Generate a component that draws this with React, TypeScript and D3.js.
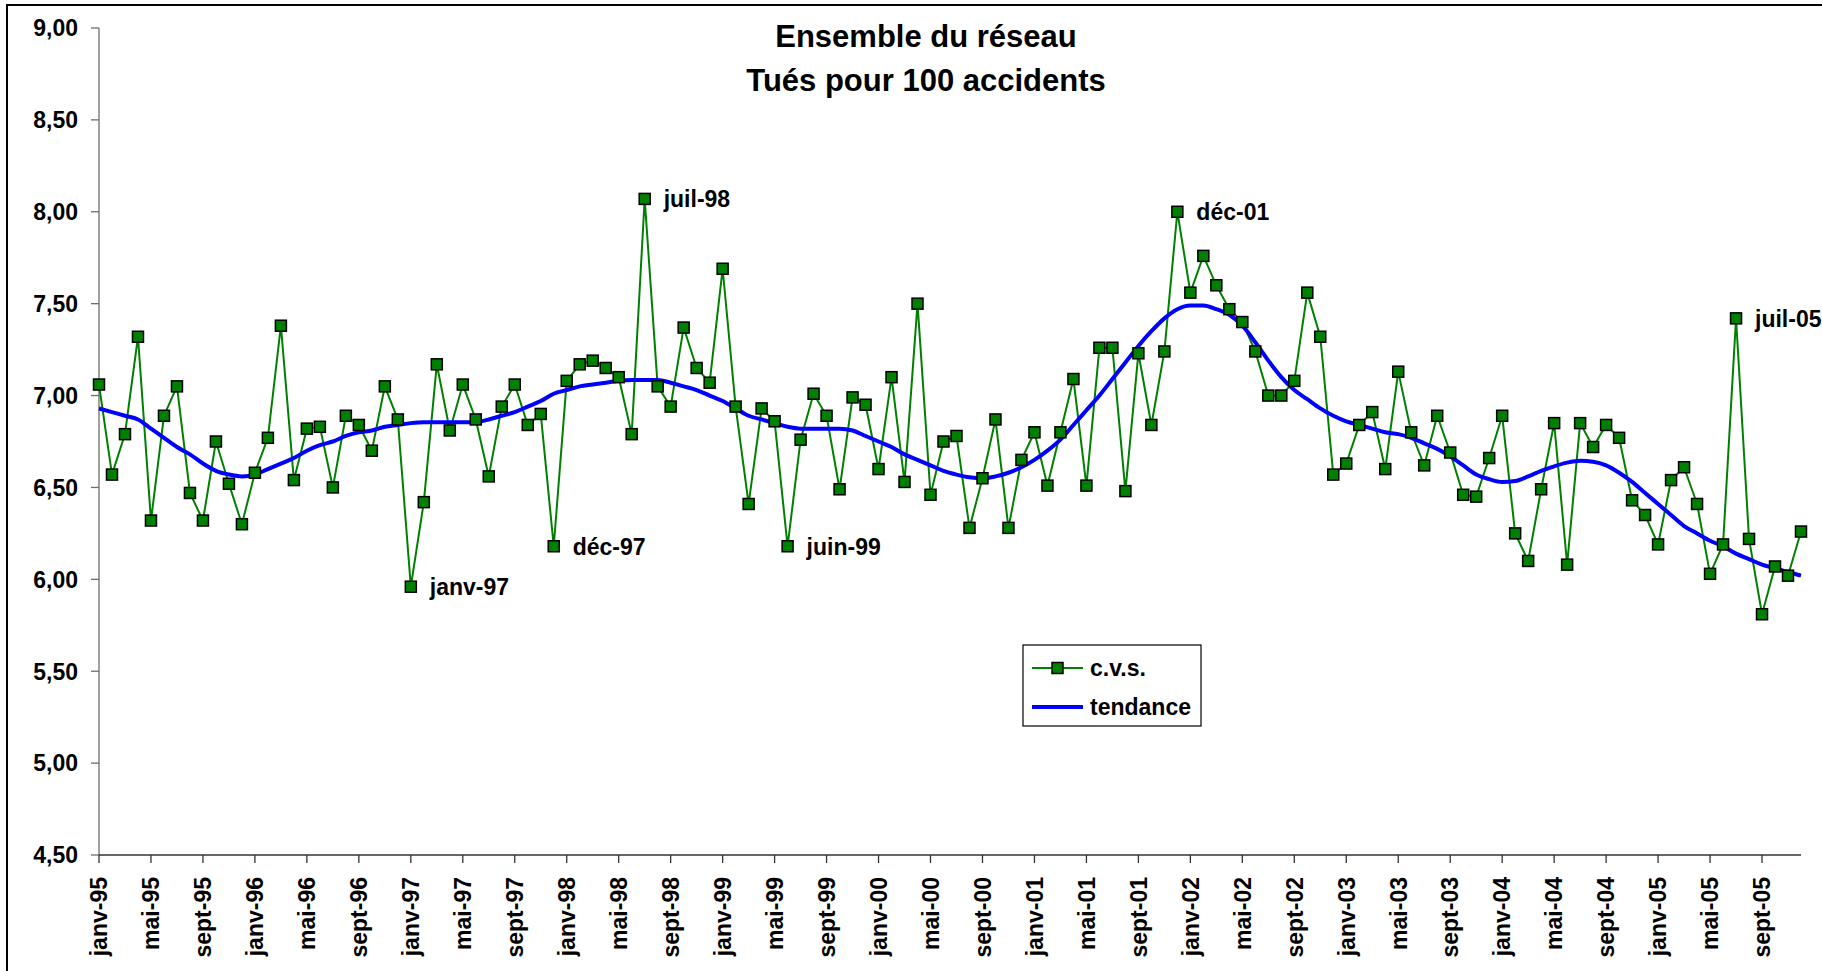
import React from "react";
import * as d3 from "d3";

const MONTHS = ["janv", "févr", "mars", "avr", "mai", "juin", "juil", "août", "sept", "oct", "nov", "déc"];
const YEARS = ["95", "96", "97", "98", "99", "00", "01", "02", "03", "04", "05"];

// taux c.v.s., janv-95 .. déc-05
const cvs = [
  7.06, 6.57, 6.79, 7.32, 6.32, 6.89, 7.05, 6.47, 6.32, 6.75, 6.52, 6.30,
  6.58, 6.77, 7.38, 6.54, 6.82, 6.83, 6.50, 6.89, 6.84, 6.70, 7.05, 6.87,
  5.96, 6.42, 7.17, 6.81, 7.06, 6.87, 6.56, 6.94, 7.06, 6.84, 6.90, 6.18,
  7.08, 7.17, 7.19, 7.15, 7.10, 6.79, 8.07, 7.05, 6.94, 7.37, 7.15, 7.07,
  7.69, 6.94, 6.41, 6.93, 6.86, 6.18, 6.76, 7.01, 6.89, 6.49, 6.99, 6.95,
  6.60, 7.10, 6.53, 7.50, 6.46, 6.75, 6.78, 6.28, 6.55, 6.87, 6.28, 6.65,
  6.80, 6.51, 6.80, 7.09, 6.51, 7.26, 7.26, 6.48, 7.23, 6.84, 7.24, 8.00,
  7.56, 7.76, 7.60, 7.47, 7.40, 7.24, 7.00, 7.00, 7.08, 7.56, 7.32, 6.57,
  6.63, 6.84, 6.91, 6.60, 7.13, 6.80, 6.62, 6.89, 6.69, 6.46, 6.45, 6.66,
  6.89, 6.25, 6.10, 6.49, 6.85, 6.08, 6.85, 6.72, 6.84, 6.77, 6.43, 6.35,
  6.19, 6.54, 6.61, 6.41, 6.03, 6.19, 7.42, 6.22, 5.81, 6.07, 6.02, 6.26,
];

// tendance
const trend = [
  6.93, 6.91, 6.89, 6.87, 6.82, 6.77, 6.72, 6.68, 6.63, 6.59, 6.57, 6.56,
  6.57, 6.60, 6.63, 6.66, 6.70, 6.73, 6.75, 6.78, 6.80, 6.81, 6.83, 6.84,
  6.85, 6.855, 6.855, 6.855, 6.855, 6.855, 6.87, 6.89, 6.91, 6.94, 6.97, 7.01,
  7.03, 7.05, 7.06, 7.07, 7.08, 7.085, 7.085, 7.085, 7.07, 7.05, 7.03, 7.00,
  6.97, 6.93, 6.89, 6.87, 6.85, 6.83, 6.82, 6.82, 6.82, 6.82, 6.81, 6.78,
  6.75, 6.72, 6.68, 6.65, 6.62, 6.59, 6.57, 6.555, 6.55, 6.56, 6.58, 6.61,
  6.65, 6.70, 6.76, 6.84, 6.92, 7.00, 7.09, 7.18, 7.27, 7.35, 7.42, 7.47,
  7.49, 7.49, 7.47, 7.44, 7.38, 7.29, 7.19, 7.10, 7.03, 6.98, 6.93, 6.89,
  6.86, 6.84, 6.82, 6.80, 6.79, 6.77, 6.74, 6.71, 6.67, 6.62, 6.57, 6.545,
  6.53, 6.535, 6.56, 6.59, 6.615, 6.635, 6.645, 6.64, 6.62, 6.58, 6.53, 6.47,
  6.41, 6.35, 6.29, 6.25, 6.21, 6.18, 6.14, 6.11, 6.08, 6.06, 6.04, 6.02,
];

const annotated = ["janv-97", "déc-97", "juil-98", "juin-99", "déc-01", "juil-05"];

const titleLines = ["Ensemble du réseau", "Tués pour 100 accidents"];

const W = 1822, H = 971;
const FONT = "'Liberation Sans', Arial, sans-serif";

const categories = YEARS.flatMap(y => MONTHS.map(m => `${m}-${y}`));
const frFormat = d3.formatLocale({ decimal: ",", thousands: " ", grouping: [3], currency: ["", " €"] }).format(".2f");

export default function App() {
  const x = d3.scalePoint<string>().domain(categories).range([99, 1801]);
  const y = d3.scaleLinear().domain([4.5, 9]).range([855, 28]);

  const cvsLine = d3.line<number>()
    .x((_, i) => x(categories[i])!)
    .y(d => y(d));
  const trendLine = d3.line<number>()
    .x((_, i) => x(categories[i])!)
    .y(d => y(d))
    .curve(d3.curveMonotoneX);

  const xTicks = categories.filter((_, i) => i % 4 === 0);
  const yTicks = y.ticks(9);
  const ms = 11;

  return (
    <svg width={W} height={H} style={{ position: "absolute", left: 0, top: 0, display: "block", background: "#fff" }}
      fontFamily={FONT} fontWeight="bold">
      <rect x={7} y={5} width={W + 20} height={H + 20} fill="#fff" stroke="#000" strokeWidth={2} />

      {/* title */}
      {titleLines.map((t, i) => (
        <text key={t} x={926} y={47 + i * 44} textAnchor="middle" fontSize={31} fill="#000">{t}</text>
      ))}

      {/* y axis */}
      <line x1={99} x2={99} y1={y(9)} y2={y(4.5)} stroke="#6e6e6e" strokeWidth={1.3} />
      {yTicks.map(t => (
        <g key={t} transform={`translate(0,${y(t)})`}>
          <line x1={91} x2={99} stroke="#6e6e6e" strokeWidth={1.3} />
          <text x={78} dy="0.36em" textAnchor="end" fontSize={23}>{frFormat(t)}</text>
        </g>
      ))}

      {/* x axis */}
      <line x1={99} x2={1801} y1={y(4.5)} y2={y(4.5)} stroke="#333" strokeWidth={1.3} />
      {xTicks.map(c => (
        <g key={c} transform={`translate(${x(c)},${y(4.5)})`}>
          <line y1={0} y2={8} stroke="#333" strokeWidth={1.3} />
          <text transform="translate(0,22) rotate(-90)" dy="0.36em" textAnchor="end" fontSize={23}>{c}</text>
        </g>
      ))}

      {/* series */}
      <path d={cvsLine(cvs)!} fill="none" stroke="#008000" strokeWidth={2} />
      <path d={trendLine(trend)!} fill="none" stroke="#0000ff" strokeWidth={4} strokeLinejoin="round" />
      {cvs.map((v, i) => (
        <rect key={i} x={x(categories[i])! - ms / 2} y={y(v) - ms / 2} width={ms} height={ms}
          fill="#008000" stroke="#000" strokeWidth={1.5} />
      ))}

      {/* annotations */}
      {annotated.map(c => {
        const i = categories.indexOf(c);
        return (
          <text key={c} x={x(c)! + 19} y={y(cvs[i])} dy="0.36em" fontSize={23}>{c}</text>
        );
      })}

      {/* legend */}
      <g transform="translate(1023,645)">
        <rect width={178} height={81} fill="#fff" stroke="#000" strokeWidth={1.2} />
        <line x1={9} x2={60} y1={23} y2={23} stroke="#008000" strokeWidth={2} />
        <rect x={34.5 - ms / 2} y={23 - ms / 2} width={ms} height={ms} fill="#008000" stroke="#000" strokeWidth={1.5} />
        <text x={67} y={23} dy="0.36em" fontSize={23}>c.v.s.</text>
        <line x1={9} x2={60} y1={62} y2={62} stroke="#0000ff" strokeWidth={4} />
        <text x={67} y={62} dy="0.36em" fontSize={23}>tendance</text>
      </g>
    </svg>
  );
}
